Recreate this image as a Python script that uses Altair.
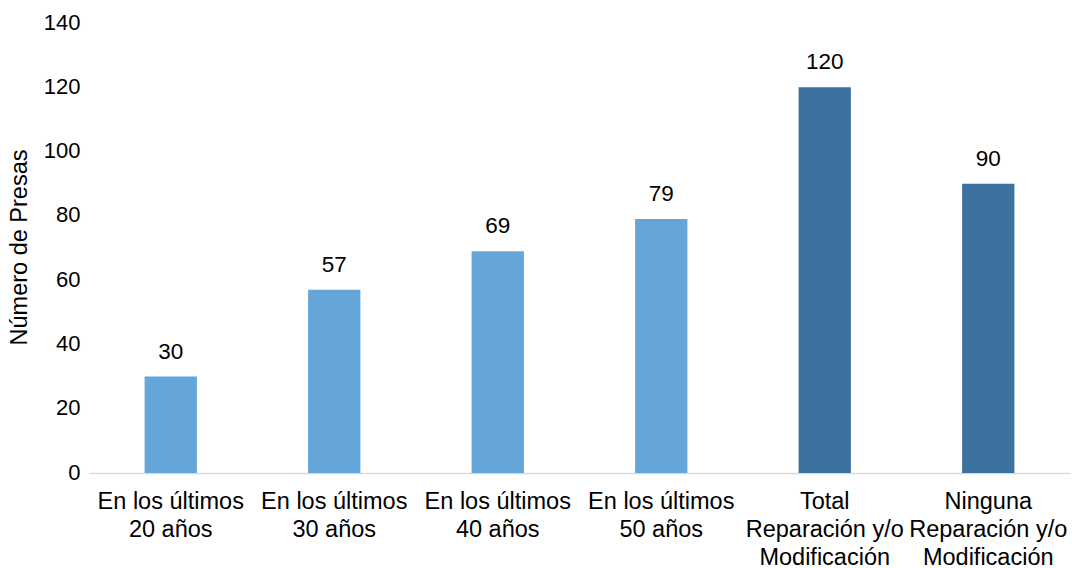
import altair as alt
import pandas as pd

categories = [
    "En los últimos|20 años",
    "En los últimos|30 años",
    "En los últimos|40 años",
    "En los últimos|50 años",
    "Total|Reparación y/o|Modificación",
    "Ninguna|Reparación y/o|Modificación",
]
values = [30, 57, 69, 79, 120, 90]
groups = ["a", "a", "a", "a", "b", "b"]
colors = ["#65A6DA", "#3D72A0"]

df = pd.DataFrame({"cat": categories, "val": values, "grp": groups})

FONT = "Liberation Sans"

x = alt.X(
    "cat:N",
    sort=categories,
    scale=alt.Scale(paddingInner=0.68, paddingOuter=0.34),
    axis=alt.Axis(
        title=None,
        labelAngle=0,
        labelExpr="split(datum.label, '|')",
        labelFontSize=23.5,
        labelColor="#000000",
        labelFont=FONT,
        labelLineHeight=28,
        labelPadding=16,
        labelBaseline="top",
        ticks=False,
        domainColor="#D9D9D9",
        domainWidth=1.5,
        labelLimit=300,
        labelOverlap=False,
    ),
)
y = alt.Y(
    "val:Q",
    scale=alt.Scale(domain=[0, 140]),
    axis=alt.Axis(
        title="Número de Presas",
        titleFont=FONT,
        titleFontSize=23.5,
        titleFontWeight="normal",
        titleColor="#000000",
        titleAngle=-90,
        titleX=-70,
        titleY=224,
        titleAlign="center",
        titleBaseline="middle",
        values=[0, 20, 40, 60, 80, 100, 120, 140],
        labelFontSize=22,
        labelFont=FONT,
        labelColor="#000000",
        labelPadding=9,
        labelOffset=-1,
        ticks=False,
        domain=False,
        grid=False,
    ),
)

bars = alt.Chart(df).mark_bar().encode(
    x=x,
    y=y,
    color=alt.Color("grp:N", scale=alt.Scale(domain=["a", "b"], range=colors), legend=None),
)
text = alt.Chart(df).mark_text(
    dy=-18, baseline="alphabetic", fontSize=22.5, font=FONT, color="#000000"
).encode(x=alt.X("cat:N", sort=categories), y="val:Q", text="val:Q")

chart = (
    alt.layer(bars, text)
    .properties(
        width=981,
        height=450,
        autosize=alt.AutoSizeParams(type="none"),
        padding={"left": 89, "top": 23, "right": 2, "bottom": 95},
        background="white",
    )
    .configure_view(stroke=None)
)

chart.save("out.html", embed_options={"renderer": "svg", "actions": False})
